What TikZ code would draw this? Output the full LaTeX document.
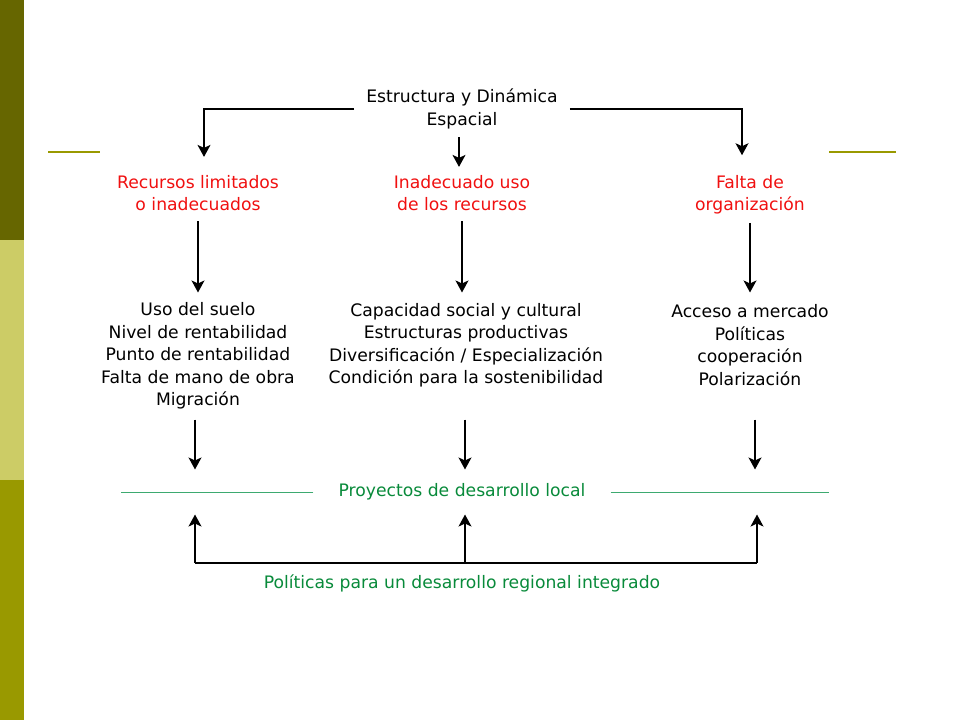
\documentclass[tikz,border=0pt]{standalone}
\usepackage{fontspec}
\setmainfont{DejaVu Sans}
\usetikzlibrary{arrows.meta}
\definecolor{olivedark}{HTML}{666600}
\definecolor{olivelight}{HTML}{CCCC66}
\definecolor{olivemid}{HTML}{999900}
\definecolor{probred}{HTML}{F01010}
\definecolor{txtgreen}{HTML}{088A3A}
\definecolor{linegreen}{HTML}{3DAA70}
\begin{document}
\begin{tikzpicture}[x=1pt,y=-1pt,
  every node/.style={inner sep=0pt,align=center,font=\fontsize{17.2}{22.5}\selectfont},
  prob/.style={text=probred},
  goal/.style={text=txtgreen},
  arr/.style={-{Stealth[length=12pt,width=13pt,inset=3pt]},line width=1.3pt},
  conn/.style={line width=1.3pt}]
\useasboundingbox (0,0) rectangle (960,720);
\fill [olivedark] (0,0) rectangle (24,240);
\fill [olivelight] (0,240) rectangle (24,480);
\fill [olivemid] (0,480) rectangle (24,720);
\draw [olivemid,line width=2pt] (48,152) -- (100,152);
\draw [olivemid,line width=2pt] (829,152) -- (896,152);
\node [inner xsep=12pt] (origen) at (462,109) {Estructura y Dinámica\\Espacial};
\node [prob] (recursos) at (198,193) {Recursos limitados\\o inadecuados};
\node [prob] (uso) at (462,193) {Inadecuado uso\\de los recursos};
\node [prob] (org) at (750,195) {Falta de\\organización};
\node (suelo) at (198,356) {Uso del suelo\\Nivel de rentabilidad\\Punto de rentabilidad\\Falta de mano de obra\\Migración};
\node (capacidad) at (466,345) {Capacidad social y cultural\\Estructuras productivas\\Diversificación / Especialización\\Condición para la sostenibilidad};
\node (mercado) at (750,345) {Acceso a mercado\\Políticas\\cooperación\\Polarización};
\node [goal,inner xsep=25pt] (proy) at (462,492) {Proyectos de desarrollo local};
\node [goal] (pol) at (462,583) {Políticas para un desarrollo regional integrado};
\draw [arr,shorten >=18pt] (origen.west) -| ([xshift=6pt]recursos.north);
\draw [arr,shorten >=20pt] (origen.east) -| ([xshift=-8pt]org.north);
\draw [arr,shorten <=8pt,shorten >=8pt] ([xshift=-3pt]origen.south) -- ([xshift=-3pt]uso.north);
\draw [arr,shorten <=10pt,shorten >=10pt] (recursos.south) -- (suelo.north);
\draw [arr,shorten <=10pt,shorten >=10pt] (uso.south) -- (uso |- suelo.north);
\draw [arr,shorten <=8pt,shorten >=10pt] (org.south) -- (org |- suelo.north);
\draw [arr,shorten <=10pt,shorten >=14pt] ([xshift=-3pt]suelo.south) -- ([xshift=-3pt]suelo.south |- proy.north);
\draw [arr,shorten <=10pt,shorten >=14pt] ([xshift=-1pt]capacidad.south |- suelo.south) -- ([xshift=-1pt]capacidad.south |- proy.north);
\draw [arr,shorten <=10pt,shorten >=14pt] ([xshift=5pt]mercado.south |- suelo.south) -- ([xshift=5pt]mercado.south |- proy.north);
\draw [linegreen,line width=0.8pt] (proy.west) -- (121,492);
\draw [linegreen,line width=0.8pt] (proy.east) -- (829,492);
\coordinate (bl) at (195,563);
\coordinate (bm) at (465,563);
\coordinate (br) at (757,563);
\draw [conn] (bl) -- (br);
\draw [arr,shorten >=14pt] (bl) -- (bl |- proy.south);
\draw [arr,shorten >=14pt] (bm) -- (bm |- proy.south);
\draw [arr,shorten >=14pt] (br) -- (br |- proy.south);
\end{tikzpicture}
\end{document}
